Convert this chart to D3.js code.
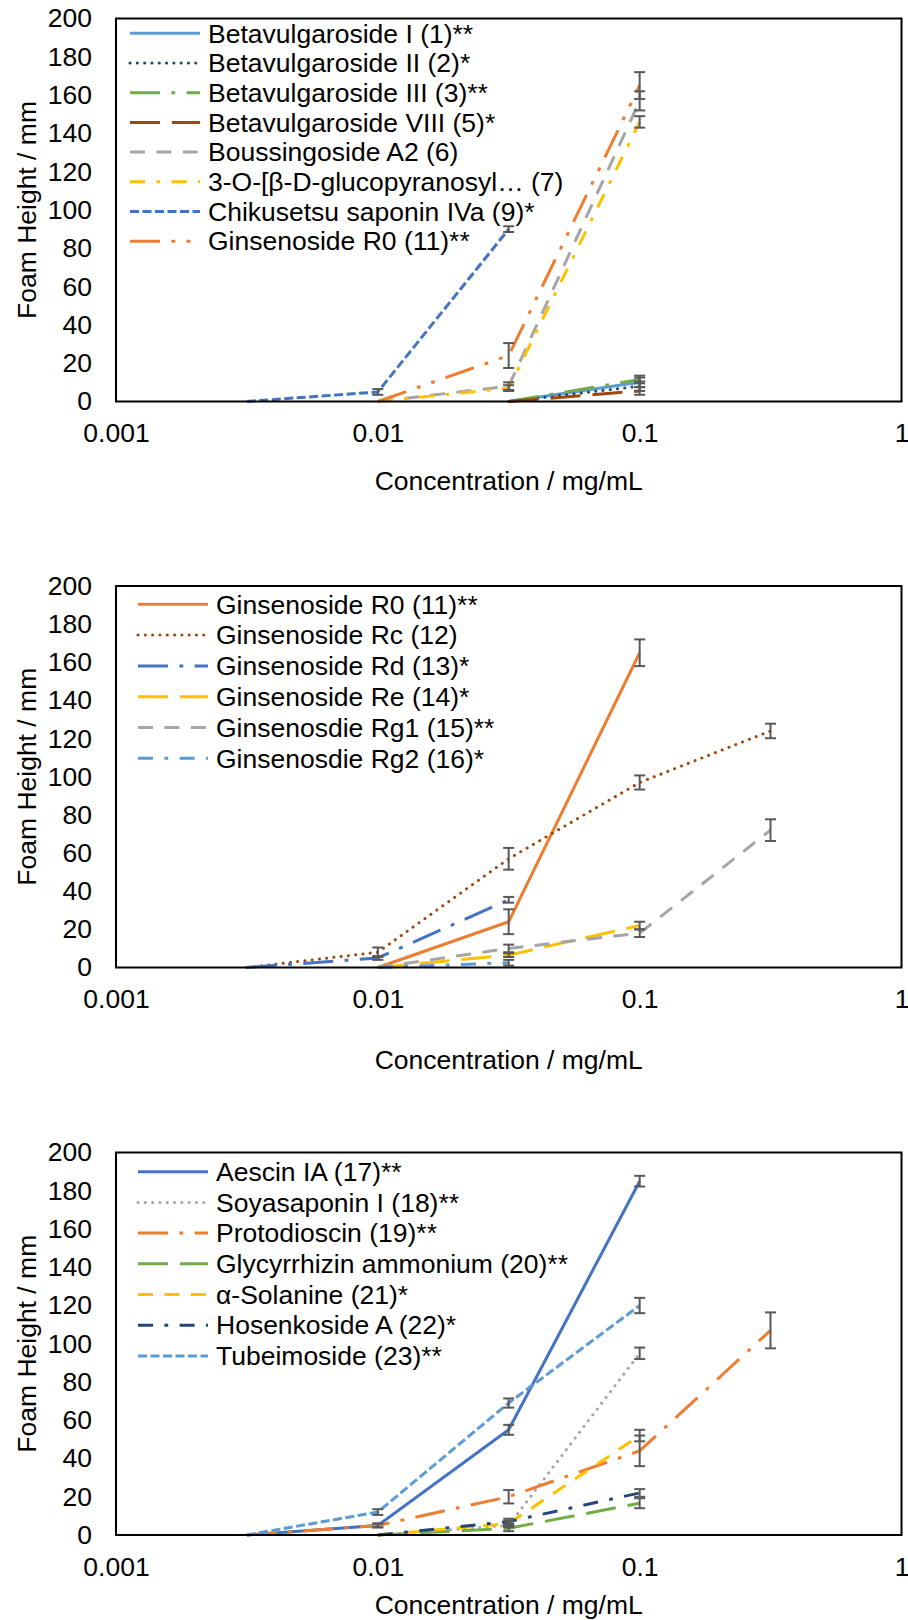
<!DOCTYPE html>
<html><head><meta charset="utf-8">
<script src="https://cdn.jsdelivr.net/npm/d3@7/dist/d3.min.js"></script>
<style>
body{margin:0;background:#fff}
text{font-family:"Liberation Sans",Arial,sans-serif;fill:#000}
</style>
</head><body>
<svg id="chart" width="908" height="1620"></svg>
<script>
// ---------- DATA ----------
const concentrations = [0.00316, 0.01, 0.0316, 0.1, 0.316];
const yTickValues = [0, 20, 40, 60, 80, 100, 120, 140, 160, 180, 200];
const xTickValues = [0.001, 0.01, 0.1, 1];
const xTickLabels = ["0.001", "0.01", "0.1", "1"];
const xAxisTitle = "Concentration / mg/mL";
const yAxisTitle = "Foam Height / mm";

// Panel 1
const panel1Names = ["Betavulgaroside I (1)**", "Betavulgaroside II (2)*", "Betavulgaroside III (3)**",
  "Betavulgaroside VIII (5)*", "Boussingoside A2 (6)", "3-O-[β-D-glucopyranosyl… (7)",
  "Chikusetsu saponin IVa (9)*", "Ginsenoside R0 (11)**"];
const betavulgaroside1 = [null, null, 0, 10, null];
const betavulgaroside2 = [null, null, 0, 8, null];
const betavulgaroside3 = [null, null, 0, 11.5, null];
const betavulgaroside8 = [null, null, 0, 5.5, null];
const boussingosideA2 = [null, 0, 8, 157, null];
const glucopyranosyl7 = [null, 0, 7, 146, null];
const chikusetsuIVa = [0, 5, 90, null, null];
const ginsenosideR0 = [null, 0, 24, 165, null];
const betavulgaroside1Err = [0, 0, 0, 2.5, 0];
const betavulgaroside2Err = [0, 0, 0, 2.5, 0];
const betavulgaroside3Err = [0, 0, 0, 2, 0];
const betavulgaroside8Err = [0, 0, 0, 2, 0];
const boussingosideA2Err = [0, 0, 2, 5, 0];
const glucopyranosyl7Err = [0, 0, 1.5, 3, 0];
const chikusetsuIVaErr = [0, 1.5, 1.5, 0, 0];
const ginsenosideR0Err = [0, 0, 6.5, 7, 0];

// Panel 2
const panel2Names = ["Ginsenoside R0 (11)**", "Ginsenoside Rc (12)", "Ginsenoside Rd (13)*",
  "Ginsenoside Re (14)*", "Ginsenosdie Rg1 (15)**", "Ginsenosdie Rg2 (16)*"];
const ginsenosideRc = [0, 8, 57, 97, 124];
const ginsenosideRd = [0, 5, 35.5, null, null];
const ginsenosideRe = [null, 0, 6.5, 22, null];
const ginsenosideRg1 = [null, 0, 10, 18, 72];
const ginsenosideRg2 = [null, 0, 2.5, null, null];
const ginsenosideRcErr = [0, 2.5, 5.7, 3.7, 3.8];
const ginsenosideRdErr = [0, 1, 1.5, 0, 0];
const ginsenosideReErr = [0, 0, 1, 2, 0];
const ginsenosideRg1Err = [0, 0, 2, 2, 5.7];
const ginsenosideRg2Err = [0, 0, 1.5, 0, 0];

// Panel 3
const panel3Names = ["Aescin IA (17)**", "Soyasaponin I (18)**", "Protodioscin (19)**",
  "Glycyrrhizin ammonium (20)**", "α-Solanine (21)*", "Hosenkoside A (22)*", "Tubeimoside (23)**"];
const aescinIA = [0, 5, 55, 185, null];
const soyasaponinI = [null, 0, 5, 95, null];
const protodioscin = [0, 5, 20, 44, 107];
const glycyrrhizin = [null, 0, 3.5, 16.6, null];
const solanine = [null, 0, 6, 52, null];
const hosenkosideA = [null, 0, 7, 22, null];
const tubeimoside = [0, 12, 69, 120, null];
const aescinIAErr = [0, 1, 2.6, 2.8, 0];
const soyasaponinIErr = [0, 0, 1, 3, 0];
const protodioscinErr = [0, 1, 3.5, 8, 9.4];
const glycyrrhizinErr = [0, 0, 1.5, 2.6, 0];
const solanineErr = [0, 0, 1.5, 3, 0];
const hosenkosideAErr = [0, 0, 1.5, 2, 0];
const tubeimosideErr = [0, 1.5, 2.4, 4, 0];

// ---------- STYLES ----------
const C = {lblue:"#5B9BD5", navy:"#264478", green:"#70AD47", brown:"#9E480E",
  gray:"#A5A5A5", yellow:"#FFC000", blue:"#4472C4", orange:"#ED7D31"};
const DASH = {
  solid: null,
  dot: "0.1 7.2",
  sysDash: "9 3.5",
  dash: "15 11.4",
  lgDash: "30 12",
  dashDot: "15 11.4 3.8 11.4",
  lgDashDot: "30 11.4 3.8 11.4",
  lgDashDotDot: "30 11.4 3.8 11.4 3.8 11.4"
};

const panels = [
  {top:18.5, bottom:401.5, legendX:130, legendY:33.3, legendStep:29.7, titleY:481,
   series:[
    {name:panel1Names[0], v:betavulgaroside1, e:betavulgaroside1Err, c:C.lblue, d:"solid"},
    {name:panel1Names[1], v:betavulgaroside2, e:betavulgaroside2Err, c:C.navy, d:"dot"},
    {name:panel1Names[2], v:betavulgaroside3, e:betavulgaroside3Err, c:C.green, d:"lgDashDot"},
    {name:panel1Names[3], v:betavulgaroside8, e:betavulgaroside8Err, c:C.brown, d:"lgDash"},
    {name:panel1Names[4], v:boussingosideA2, e:boussingosideA2Err, c:C.gray, d:"dash"},
    {name:panel1Names[5], v:glucopyranosyl7, e:glucopyranosyl7Err, c:C.yellow, d:"dashDot"},
    {name:panel1Names[6], v:chikusetsuIVa, e:chikusetsuIVaErr, c:C.blue, d:"sysDash"},
    {name:panel1Names[7], v:ginsenosideR0, e:ginsenosideR0Err, c:C.orange, d:"lgDashDotDot"}
  ]},
  {top:586, bottom:967.5, legendX:138, legendY:604.3, legendStep:30.8, titleY:1060,
   series:[
    {name:panel2Names[0], v:ginsenosideR0, e:ginsenosideR0Err, c:C.orange, d:"solid"},
    {name:panel2Names[1], v:ginsenosideRc, e:ginsenosideRcErr, c:C.brown, d:"dot"},
    {name:panel2Names[2], v:ginsenosideRd, e:ginsenosideRdErr, c:C.blue, d:"lgDashDot"},
    {name:panel2Names[3], v:ginsenosideRe, e:ginsenosideReErr, c:C.yellow, d:"lgDash"},
    {name:panel2Names[4], v:ginsenosideRg1, e:ginsenosideRg1Err, c:C.gray, d:"dash"},
    {name:panel2Names[5], v:ginsenosideRg2, e:ginsenosideRg2Err, c:C.lblue, d:"dashDot"}
  ]},
  {top:1152.5, bottom:1535, legendX:138, legendY:1171.7, legendStep:30.7, titleY:1605,
   series:[
    {name:panel3Names[0], v:aescinIA, e:aescinIAErr, c:C.blue, d:"solid"},
    {name:panel3Names[1], v:soyasaponinI, e:soyasaponinIErr, c:C.gray, d:"dot"},
    {name:panel3Names[2], v:protodioscin, e:protodioscinErr, c:C.orange, d:"lgDashDot"},
    {name:panel3Names[3], v:glycyrrhizin, e:glycyrrhizinErr, c:C.green, d:"lgDash"},
    {name:panel3Names[4], v:solanine, e:solanineErr, c:C.yellow, d:"dash"},
    {name:panel3Names[5], v:hosenkosideA, e:hosenkosideAErr, c:C.navy, d:"dashDot"},
    {name:panel3Names[6], v:tubeimoside, e:tubeimosideErr, c:C.lblue, d:"sysDash"}
  ]}
];

const svg = d3.select("#chart");
svg.append("rect").attr("width",908).attr("height",1620).attr("fill","#fff");
const left = 116, right = 901.5, FS = 26.5;

function styleLine(sel, s){
  sel.attr("fill","none").attr("stroke",s.c).attr("stroke-width",3)
    .attr("stroke-linecap", s.d==="dot" ? "round" : "butt")
    .attr("stroke-linejoin","round");
  if (DASH[s.d]) sel.attr("stroke-dasharray", DASH[s.d]);
}

panels.forEach(p => {
  const x = d3.scaleLog().domain([0.001, 1]).range([left, right]);
  const y = d3.scaleLinear().domain([0, 200]).range([p.bottom, p.top]);
  const g = svg.append("g");

  // y axis labels
  const ya = g.append("g").attr("transform",`translate(${left},0)`)
    .call(d3.axisLeft(y).tickValues(yTickValues).tickSize(0).tickPadding(24).tickFormat(d3.format("d")));
  ya.select(".domain").remove();
  ya.selectAll("text").attr("font-size",FS).attr("font-family","Liberation Sans, Arial, sans-serif").attr("fill","#000");

  // x axis labels
  const xa = g.append("g").attr("transform",`translate(0,${p.bottom})`)
    .call(d3.axisBottom(x).tickValues(xTickValues).tickSize(0).tickPadding(22)
      .tickFormat((d,i) => xTickLabels[i]));
  xa.select(".domain").remove();
  xa.selectAll("text").attr("font-size",FS).attr("font-family","Liberation Sans, Arial, sans-serif").attr("fill","#000");

  // axis titles
  g.append("text").attr("x",(left+right)/2).attr("y",p.titleY).attr("dy","0.35em")
    .attr("text-anchor","middle").attr("font-size",FS).text(xAxisTitle);
  g.append("text").attr("transform",`translate(27,${(p.top+p.bottom)/2}) rotate(-90)`)
    .attr("dy","0.35em").attr("text-anchor","middle").attr("font-size",FS).text(yAxisTitle);

  // lines
  const line = d3.line().defined(d => d.v != null).x(d => x(d.x)).y(d => y(d.v));
  p.series.forEach(s => {
    const pts = concentrations.map((cx,i) => ({x:cx, v:s.v[i], e:s.e[i]}));
    const seg = pts.filter(d => d.v != null);
    g.append("path").datum(seg).attr("d", line).call(styleLine, s);
  });
  // error bars
  p.series.forEach(s => {
    const pts = concentrations.map((cx,i) => ({x:cx, v:s.v[i], e:s.e[i]})).filter(d => d.v != null && d.e > 0);
    const eb = g.append("g").attr("stroke","#595959").attr("stroke-width",2).attr("fill","none");
    pts.forEach(d => {
      const cx = x(d.x), y1 = y(d.v + d.e), y2 = y(Math.max(0, d.v - d.e));
      eb.append("line").attr("x1",cx).attr("x2",cx).attr("y1",y1).attr("y2",y2);
      eb.append("line").attr("x1",cx-5.5).attr("x2",cx+5.5).attr("y1",y1).attr("y2",y1);
      eb.append("line").attr("x1",cx-5.5).attr("x2",cx+5.5).attr("y1",y2).attr("y2",y2);
    });
  });

  // plot frame
  g.append("rect").attr("x",left).attr("y",p.top).attr("width",right-left).attr("height",p.bottom-p.top)
    .attr("fill","none").attr("stroke","#000").attr("stroke-width",2);

  // legend
  p.series.forEach((s,i) => {
    const ly = p.legendY + i*p.legendStep;
    g.append("line").attr("x1",p.legendX).attr("x2",p.legendX+70).attr("y1",ly).attr("y2",ly).call(styleLine, s);
    g.append("text").attr("x",p.legendX+78).attr("y",ly).attr("dy","0.35em").attr("font-size",FS).text(s.name);
  });
});
</script>
</body></html>
